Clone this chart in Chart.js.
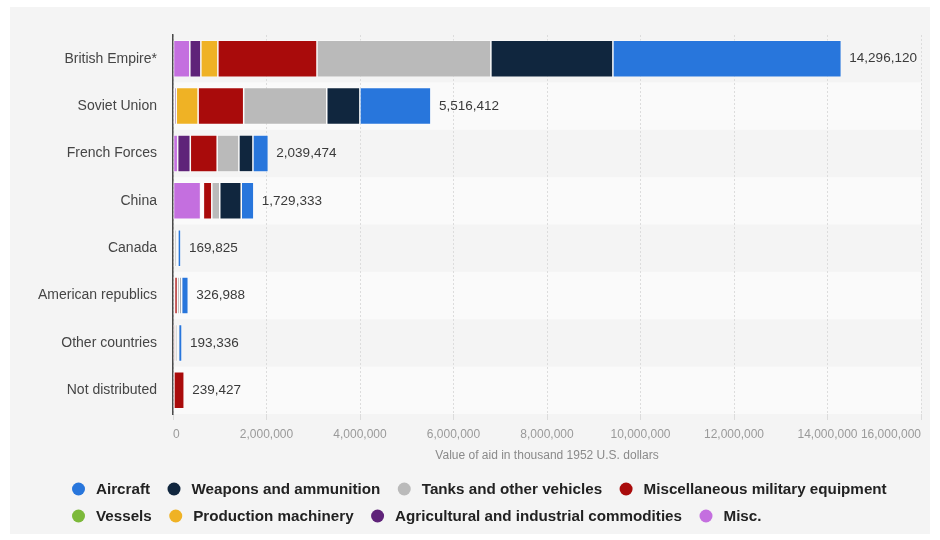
<!DOCTYPE html>
<html><head><meta charset="utf-8">
<script src="https://cdn.jsdelivr.net/npm/chart.js@4.4.1/dist/chart.umd.min.js"></script>
<style>html,body{margin:0;padding:0;background:#fff;}#wrap{width:940px;height:540px;}</style>
</head><body><div id="wrap"><canvas id="c" width="940" height="540"></canvas></div>
<script>
const categories = ['British Empire*','Soviet Union','French Forces','China','Canada','American republics','Other countries','Not distributed'];
const totals = [14296120, 5516412, 2039474, 1729333, 169825, 326988, 193336, 239427];
// series in stacking order (left to right)
const miscValues      = [360000, 30000, 100000, 590000, 0, 15000, 0, 10000];
const agriValues      = [236000, 40000, 270000, 30000, 0, 10000, 0, 10000];
const productionValues= [364000, 467000, 0, 30000, 15000, 10000, 0, 0];
const vesselValues    = [0, 0, 0, 0, 0, 0, 0, 0];
const miscMilValues   = [2120000, 975000, 575000, 180000, 15000, 60000, 45000, 219427];
const tankValues      = [3720000, 1777000, 465000, 170000, 45000, 50000, 45000, 0];
const weaponValues    = [2610000, 709000, 300000, 460000, 30000, 40000, 30000, 0];
const aircraftValues  = [4886120, 1518412, 329474, 269333, 64825, 141988, 73336, 0];
const xTicks = [0, 2000000, 4000000, 6000000, 8000000, 10000000, 12000000, 14000000, 16000000];
const axisTitle = 'Value of aid in thousand 1952 U.S. dollars';

const series = [
  {name:'Misc.', data:miscValues, color:'#c46fdf'},
  {name:'Agricultural and industrial commodities', data:agriValues, color:'#5f2379'},
  {name:'Production machinery', data:productionValues, color:'#efb225'},
  {name:'Vessels', data:vesselValues, color:'#7cb93a'},
  {name:'Miscellaneous military equipment', data:miscMilValues, color:'#a90b0b'},
  {name:'Tanks and other vehicles', data:tankValues, color:'#bababa'},
  {name:'Weapons and ammunition', data:weaponValues, color:'#10263e'},
  {name:'Aircraft', data:aircraftValues, color:'#2876dc'}
];

const FONT = "'Liberation Sans', Arial, Helvetica, sans-serif";
Chart.defaults.font.family = FONT;

const bgPlugin = {
  id:'bg',
  beforeDraw(chart){
    const {ctx, chartArea:a, scales:{y}} = chart;
    ctx.save();
    ctx.fillStyle = '#f4f4f4';
    ctx.fillRect(10, 7, 920, 527);
    const step = Math.abs(y.getPixelForValue(1) - y.getPixelForValue(0));
    categories.forEach((c,i)=>{
      if (i % 2 === 1) {
        const cy = y.getPixelForValue(i);
        ctx.fillStyle = '#fafafa';
        ctx.fillRect(a.left, cy - step/2, a.right - a.left, step);
      }
    });
    ctx.restore();
  }
};

const valuePlugin = {
  id:'vals',
  afterDatasetsDraw(chart){
    const {ctx, scales:{x,y}} = chart;
    ctx.save();
    ctx.font = '13.5px ' + FONT;
    ctx.fillStyle = '#3a3a3a';
    ctx.textAlign = 'left';
    ctx.textBaseline = 'middle';
    totals.forEach((t,i)=>{
      ctx.fillText(t.toLocaleString('en-US'), x.getPixelForValue(t) + 8, y.getPixelForValue(i));
    });
    ctx.restore();
  }
};

// legend drawn from the chart's datasets (reverse order), flow layout in two rows
const legendPlugin = {
  id:'customLegend',
  afterDraw(chart){
    const {ctx} = chart;
    const items = chart.data.datasets.map(d=>({text:d.label, color:d.backgroundColor})).reverse();
    ctx.save();
    ctx.font = 'bold 15.2px ' + FONT;
    ctx.textBaseline = 'middle';
    ctx.textAlign = 'left';
    const startX = 72, maxRight = 928, rowYs = [489, 516];
    let x = startX, row = 0;
    items.forEach(it=>{
      const w = ctx.measureText(it.text).width;
      const itemW = 24 + w;
      if (x !== startX && x + itemW > maxRight) { row++; x = startX; }
      const y = rowYs[row] !== undefined ? rowYs[row] : rowYs[0] + row*27;
      ctx.fillStyle = it.color;
      ctx.beginPath(); ctx.arc(x + 6.5, y, 6.5, 0, Math.PI*2); ctx.fill();
      ctx.fillStyle = '#222';
      ctx.fillText(it.text, x + 24, y + 0.5);
      x += itemW + 17.5;
    });
    ctx.restore();
  }
};

new Chart(document.getElementById('c'), {
  type:'bar',
  data:{
    labels:categories,
    datasets: series.map(s=>({
      label:s.name, data:s.data, backgroundColor:s.color,
      borderColor:'rgba(255,255,255,0.7)', borderWidth:0.75, borderSkipped:false,
      barPercentage:0.78, categoryPercentage:1
    }))
  },
  options:{
    responsive:false, animation:false, indexAxis:'y',
    layout:{padding:{left:10, right:19, top:35, bottom:71}},
    scales:{
      x:{
        stacked:true, min:0, max:16000000,
        afterBuildTicks(s){ s.ticks = xTicks.map(v=>({value:v})); },
        ticks:{color:'#9a9a9a', font:{size:12}, padding:7, align:'inner', maxRotation:0, autoSkip:false,
          callback:v=>Number(v).toLocaleString('en-US')},
        grid:{color:'#dcdcdc', tickLength:6, lineWidth:1},
        border:{display:false, dash:[2,2]},
        title:{display:true, text:axisTitle, color:'#8a8a8a', font:{size:12}, padding:{top:4, bottom:6}},
        afterFit(s){ s.height = 55; }
      },
      y:{
        stacked:true,
        grid:{display:false, drawTicks:false},
        border:{display:true, color:'#4a4a4a', width:1.5},
        ticks:{color:'#454545', font:{size:14}, padding:16},
        afterFit(s){ s.width = 163; }
      }
    },
    plugins:{
      legend:{display:false},
      tooltip:{enabled:false}
    }
  },
  plugins:[bgPlugin, valuePlugin, legendPlugin]
});
</script>
</body></html>
